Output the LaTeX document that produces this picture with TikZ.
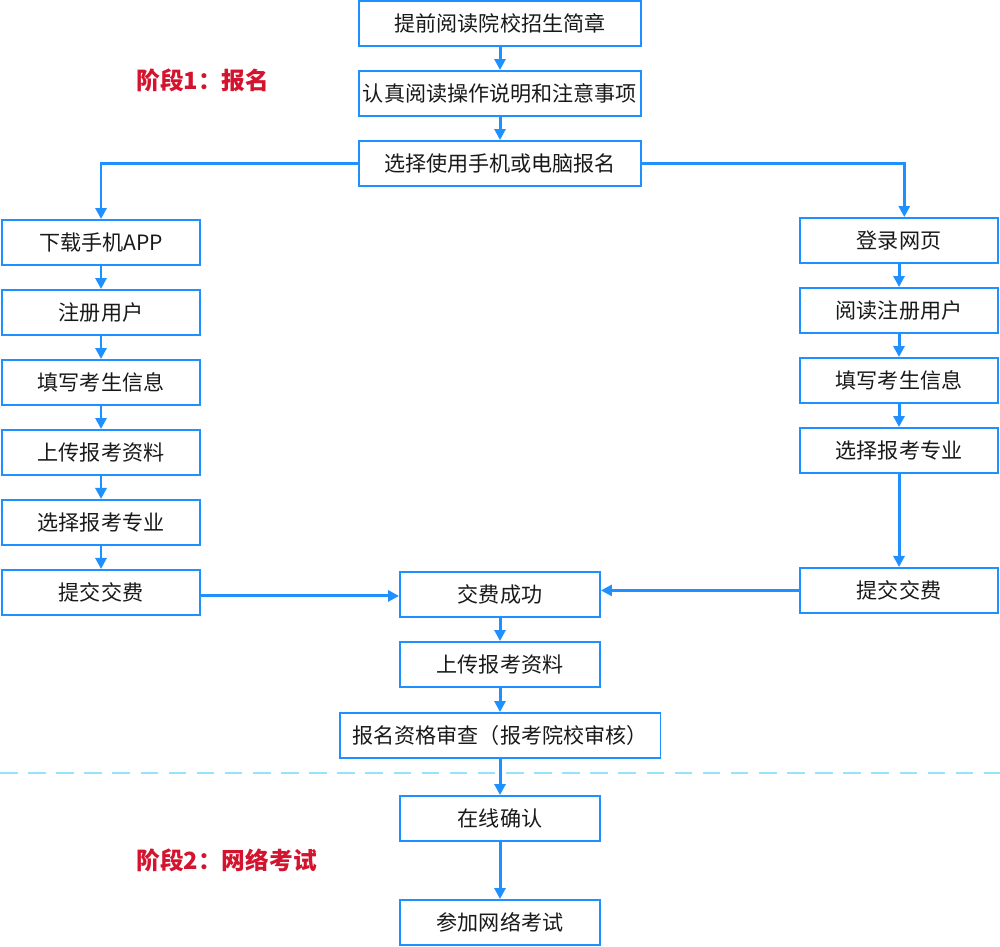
\documentclass[tikz,border=0pt]{standalone}
\usepackage{fontspec}
\setmainfont{Noto Sans CJK SC}
\usepackage{xcolor}
\usetikzlibrary{positioning}
\usetikzlibrary{arrows.meta}
\definecolor{flowblue}{RGB}{30,144,255}
\definecolor{stagered}{RGB}{212,20,46}
\definecolor{sepcyan}{RGB}{150,228,250}

\begin{document}
\begin{tikzpicture}[x=0.02cm, y=-0.02cm, node distance=1.4cm,
    box/.style={draw=flowblue, line width=1.1pt, minimum height=0.9cm, minimum width=4cm, inner sep=0pt, align=center, text=black!90, font=\fontsize{12}{15}\selectfont},
    wide/.style={box, minimum width=5.64cm},
    side/.style={box, minimum width=3.96cm},
    stage/.style={anchor=west, inner sep=0pt, text=stagered, font=\fontsize{13.5}{17}\selectfont\bfseries},
    link/.style={draw=flowblue, line width=1.7pt, -{Triangle[length=0.22cm, width=0.22cm]}}]
            \useasboundingbox (0,0) rectangle (1000,946);
            \node[wide] (brochure) at (500,23.5) {提前阅读院校招生简章};
            \node[wide] (manual) [below of=brochure] {认真阅读操作说明和注意事项};
            \node[wide] (device) [below of=manual] {选择使用手机或电脑报名};
            \node[stage] (stage_one) at (136,80) {阶段1：报名};
            % mobile branch
            \node[side] (app) at (101,242.5) {下载手机APP};
            \node[side] (app_register) [below of=app] {注册用户};
            \node[side] (app_info) [below of=app_register] {填写考生信息};
            \node[side] (app_upload) [below of=app_info] {上传报考资料};
            \node[side] (app_major) [below of=app_upload] {选择报考专业};
            \node[side] (app_pay) [below of=app_major] {提交交费};
            % web branch
            \node[side] (web) at (899,240.5) {登录网页};
            \node[side] (web_register) [below of=web] {阅读注册用户};
            \node[side] (web_info) [below of=web_register] {填写考生信息};
            \node[side] (web_major) [below of=web_info] {选择报考专业};
            \node[side] (web_pay) [below of=web_major, node distance=2.8cm] {提交交费};
            % common steps
            \node[box] (paid) at (500,594.5) {交费成功};
            \node[box] (upload) [below of=paid] {上传报考资料};
            \node[box, minimum width=6.42cm] (review) at (500,735.5) {报名资格审查（报考院校审核）};
            \node[box] (confirm) at (500,818.5) {在线确认};
            \node[box] (exam) at (500,922.5) {参加网络考试};
            \node[stage] (stage_two) at (136,860) {阶段2：网络考试};
            \draw[sepcyan, line width=1pt, dash pattern=on 10pt off 6pt] (0,773) -- (1000,773);
            \draw[link] (brochure) -- (manual);
            \draw[link] (manual) -- (device);
            \draw[link] (device.west) -| (app.north);
            \draw[link] (device.east) -| ([xshift=3pt]web.north);
            \draw[link] (app) -- (app_register);
            \draw[link] (app_register) -- (app_info);
            \draw[link] (app_info) -- (app_upload);
            \draw[link] (app_upload) -- (app_major);
            \draw[link] (app_major) -- (app_pay);
            \draw[link] (web) -- (web_register);
            \draw[link] (web_register) -- (web_info);
            \draw[link] (web_info) -- (web_major);
            \draw[link] (web_major) -- (web_pay);
            \draw[link] ([yshift=-2pt]app_pay.east) -- ([yshift=-2pt]app_pay.east -| paid.west);
            \draw[link] (web_pay.west) -- (web_pay.west -| paid.east);
            \draw[link] (paid) -- (upload);
            \draw[link] (upload) -- (review);
            \draw[link] (review) -- (confirm);
            \draw[link] (confirm) -- (exam);
        \end{tikzpicture}
\end{document}
